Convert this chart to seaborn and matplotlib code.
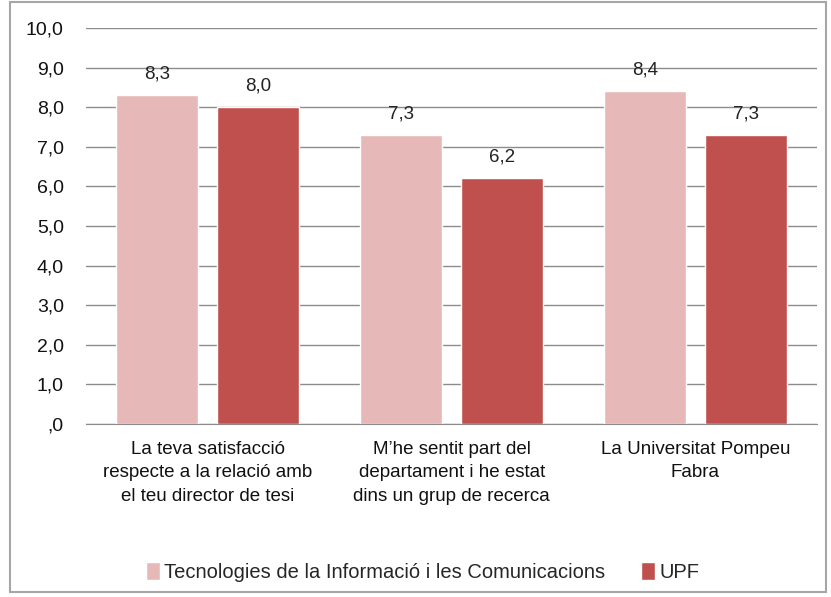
import matplotlib
matplotlib.use("Agg")
import matplotlib.pyplot as plt
import seaborn as sns
import pandas as pd
from matplotlib.patches import Rectangle

categories = ["La teva satisfacció\nrespecte a la relació amb\nel teu director de tesi",
              "M’he sentit part del\ndepartament i he estat\ndins un grup de recerca",
              "La Universitat Pompeu\nFabra"]
series = ["Tecnologies de la Informació i les Comunicacions", "UPF"]
tic_vals = [8.3, 7.3, 8.4]
upf_vals = [8.0, 6.2, 7.3]
colors = ["#E6B9B8", "#C0504D"]

df = pd.DataFrame({
    "cat": categories * 2,
    "serie": [series[0]] * 3 + [series[1]] * 3,
    "val": tic_vals + upf_vals,
})

sns.set_style("white")
plt.rcParams["font.family"] = ["Liberation Sans", "DejaVu Sans"]

fig = plt.figure(figsize=(8.31, 5.97), dpi=100)
ax = fig.add_axes([0.1035, 0.29, 0.88, 0.663])

sns.barplot(data=df, x="cat", y="val", hue="serie", palette=colors,
            width=0.83, gap=0.19, ax=ax, legend=True, saturation=1)

ax.set_ylim(0, 10)
ax.set_yticks(range(0, 11))
ax.set_yticklabels([",0"] + [f"{v},0" for v in range(1, 11)], fontsize=14)
ax.tick_params(axis="y", length=0, pad=16, colors="#111111")
ax.tick_params(axis="x", length=0, pad=12, colors="#111111")
for lbl in ax.get_xticklabels():
    lbl.set_fontsize(13.5)
    lbl.set_linespacing(1.5)
ax.set_xlabel("")
ax.set_ylabel("")
ax.grid(axis="y", color="#8c8c8c", linewidth=1)
ax.set_axisbelow(True)
for s in ["top", "right", "left"]:
    ax.spines[s].set_visible(False)
ax.spines["bottom"].set_color("#8c8c8c")
ax.set_xlim(-0.5, 2.5)

for cont in ax.containers:
    ax.bar_label(cont, labels=[f"{v:.1f}".replace(".", ",") for v in cont.datavalues],
                 padding=9, fontsize=13.5, color="#222222")

ax.legend(loc="center", bbox_to_anchor=(0.46, -0.375), ncol=2, frameon=False,
          fontsize=14.5, handlelength=0.7, handleheight=1.0, handletextpad=0.2,
          columnspacing=1.8)

fig.patches.append(Rectangle((10 / 831, 5 / 597), 816 / 831, 590 / 597,
                             transform=fig.transFigure, fill=False,
                             edgecolor="#a6a6a6", linewidth=1.5))

fig.savefig("out.png", dpi=100)
